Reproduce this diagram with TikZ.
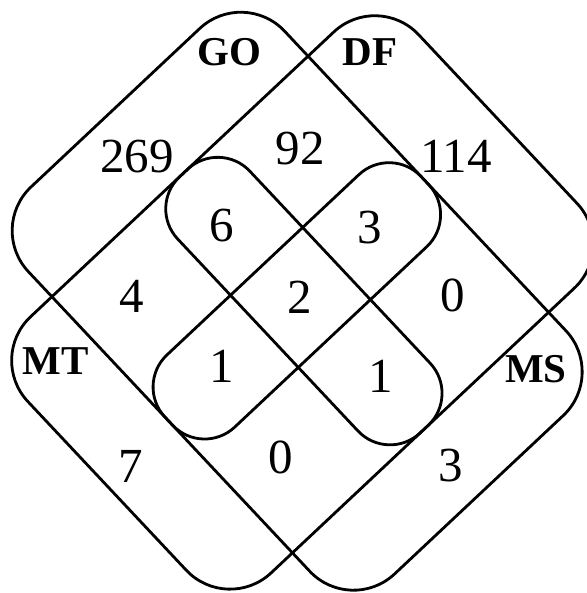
\documentclass[tikz,border=0pt]{standalone}
\usepackage{fontspec}
\setmainfont{Liberation Serif}
\begin{document}
\begin{tikzpicture}[x=0.5pt,y=-0.5pt,
                    setbox/.style={draw,line width=1.4pt},
                    outerbox/.style={setbox,rounded corners=30pt},
                    innerbox/.style={setbox,rounded corners=22pt},
                    num/.style={inner sep=0pt,font=\fontsize{24.5}{29}\selectfont},
                    setname/.style={inner sep=0pt,font=\fontsize{20.5}{25}\selectfont\bfseries}]

  \useasboundingbox (0,0) rectangle (587,593);

  % the four sets, drawn in a frame turned by 45 degrees
  \begin{scope}[shift={(300.25,304.5)},rotate=-1.8]
  \begin{scope}[rotate=-45]
    \draw[outerbox] (-270,-175.7) rectangle (261,175.7);   % GO / MS
    \draw[outerbox] (-175.7,-271) rectangle (175.7,265);   % DF / MT
    \draw[innerbox] (-175.7,-54.5) rectangle (175.7,44.5);
    \draw[innerbox] (-54.5,-175.7) rectangle (44.5,175.7);
  \end{scope}
  \end{scope}

  % set names
  \node[setname] (GO) at (229,52)  {GO};
  \node[setname] (DF) at (370,52)  {DF};
  \node[setname] (MT) at (56,361)  {MT};
  \node[setname] (MS) at (536,369) {MS};

  % counts
  \node[num] (goonly)  at (137,157) {269};
  \node[num] (godf)    at (300,149) {92};
  \node[num] (dfonly)  at (456,156) {114};
  \node[num] (upleft)  at (222,226) {6};
  \node[num] (upright) at (370,228) {3};
  \node[num] (gomt)    at (132,296) {4};
  \node[num] (all)     at (300,297) {2};
  \node[num] (dfms)    at (453,295) {0};
  \node[num] (lowleft) at (222,366) {1};
  \node[num] (lowright) at (381,376) {1};
  \node[num] (mtonly)  at (131,466) {7};
  \node[num] (mtms)    at (281,457) {0};
  \node[num] (msonly)  at (451,466) {3};

\end{tikzpicture}
\end{document}
